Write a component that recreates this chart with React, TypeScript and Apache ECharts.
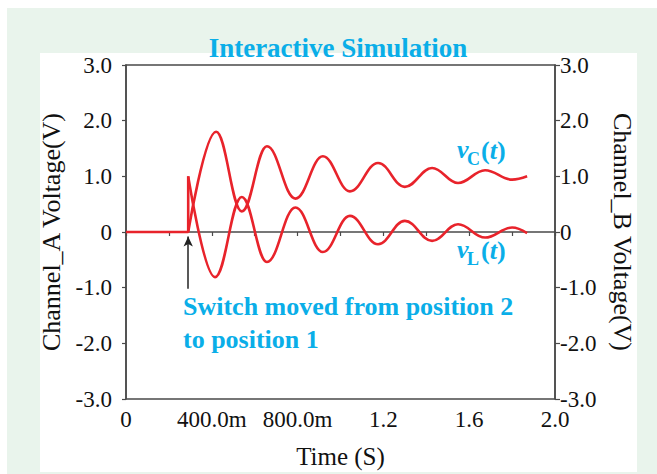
import React, { useEffect, useRef } from 'react';
import * as echarts from 'echarts';

const xTickLabels = ['0', '400.0m', '800.0m', '1.2', '1.6', '2.0'];
const yTickLabels = ['-3.0', '-2.0', '-1.0', '0', '1.0', '2.0', '3.0'];

const switchTime = 0.29;
const preTimes = [0, 0.29, 0.29];
const preValues = [0, 0, 1.0];
const vcTimes = [0.29, 0.42, 0.54, 0.657, 0.79, 0.918, 1.044, 1.175, 1.3, 1.427, 1.548, 1.674, 1.8, 1.87];
const vcValues = [0, 1.8, 0.37, 1.54, 0.6, 1.36, 0.73, 1.24, 0.81, 1.15, 0.88, 1.11, 0.94, 1.0];
const vlTimes = [0.29, 0.415, 0.54, 0.657, 0.79, 0.918, 1.044, 1.175, 1.3, 1.427, 1.548, 1.674, 1.8, 1.87];
const vlValues = [1.0, -0.81, 0.63, -0.54, 0.44, -0.36, 0.29, -0.22, 0.2, -0.16, 0.14, -0.1, 0.08, -0.02];
const arrowFrom = -1.02;
const arrowTo = -0.08;

const SERIF = '"Liberation Serif", "Times New Roman", serif';
const CYAN = '#0aaee8';
const RED = '#e8232b';
const AXIS = '#4a4a4a';

const pairs = (xs: number[], ys: number[]) => xs.map((x, i) => [x, ys[i]]);

export default function App() {
  const ref = useRef<HTMLDivElement>(null);
  useEffect(() => {
    if (!ref.current) return;
    const chart = echarts.init(ref.current, null, { renderer: 'svg' });
    const mid = (baseline: number, fs: number) => baseline - 0.34 * fs;
    const labelGroup = (x: number, base: number, sub: string) => [
      { type: 'text', x, y: mid(base, 26), z: 10, style: { text: 'v', font: `italic bold 26px ${SERIF}`, fill: CYAN, verticalAlign: 'middle' } },
      { type: 'text', x: x + 10, y: mid(base + 7, 18), z: 10, style: { text: sub, font: `bold 18px ${SERIF}`, fill: CYAN, verticalAlign: 'middle' } },
      {
        type: 'text', x: x + 24, y: mid(base + 1, 26), z: 10,
        style: {
          text: '{n|(}{i|t}{n|)}', verticalAlign: 'middle', fill: CYAN,
          rich: {
            n: { font: `bold 26px ${SERIF}`, fill: CYAN },
            i: { font: `italic bold 26px ${SERIF}`, fill: CYAN },
          },
        },
      },
    ];
    chart.setOption({
      animation: false,
      grid: { left: 126, right: 102, top: 65, bottom: 73, show: true, borderColor: AXIS, borderWidth: 1.5 },
      xAxis: {
        type: 'value', min: 0, max: 2, interval: 0.4,
        name: 'Time (S)', nameLocation: 'middle', nameGap: 45,
        nameTextStyle: { fontFamily: SERIF, fontSize: 25, color: '#111' },
        axisLine: { lineStyle: { color: AXIS, width: 1.5 } },
        axisTick: { length: 4, lineStyle: { color: AXIS, width: 1.2 } },
        minorTick: { show: true, splitNumber: 2, length: 4, lineStyle: { color: AXIS, width: 1.2 } },
        splitLine: { show: false },
        axisLabel: {
          margin: 11, fontFamily: SERIF, fontSize: 23, lineHeight: 18, color: '#111',
          formatter: (v: number) => xTickLabels[Math.round(v / 0.4)] ?? '',
        },
      },
      yAxis: [0, 1].map((i) => ({
        type: 'value', min: -3, max: 3, interval: 1, position: i === 0 ? 'left' : 'right',
        name: i === 0 ? 'Channel_A Voltage(V)' : 'Channel_B Voltage(V)',
        nameLocation: 'middle', nameGap: i === 0 ? 58 : 54, nameRotate: i === 0 ? 90 : -90,
        nameTextStyle: { fontFamily: SERIF, fontSize: 26, color: '#111' },
        axisLine: { show: true, lineStyle: { color: AXIS, width: 1.5 } },
        axisTick: { show: true, length: i === 0 ? 4 : 5, lineStyle: { color: AXIS, width: 1.2 } },
        splitLine: { show: false },
        axisLabel: {
          margin: i === 0 ? 14 : 5, fontFamily: SERIF, fontSize: 23, lineHeight: 18, color: '#111',
          formatter: (v: number) => yTickLabels[Math.round(v + 3)] ?? '',
        },
      })),
      series: [
        {
          type: 'line', name: 'pre', data: pairs(preTimes, preValues), showSymbol: false,
          lineStyle: { color: RED, width: 2.6 }, z: 3,
          markLine: {
            silent: true, symbol: ['none', 'arrow'], symbolSize: [7, 10],
            label: { show: false },
            lineStyle: { color: '#222', width: 1.5, type: 'solid' },
            data: [[{ coord: [switchTime, arrowFrom] }, { coord: [switchTime, arrowTo] }]],
          },
        },
        {
          type: 'line', name: 'vC', data: pairs(vcTimes, vcValues), showSymbol: false,
          smooth: 0.4, smoothMonotone: 'x',
          lineStyle: { color: RED, width: 2.6 }, z: 3,
        },
        {
          type: 'line', name: 'vL', data: pairs(vlTimes, vlValues), showSymbol: false,
          smooth: 0.4, smoothMonotone: 'x',
          lineStyle: { color: RED, width: 2.6 }, z: 3,
        },
      ],
      graphic: [
        { type: 'text', x: 338, y: mid(56.7, 27), z: 10, style: { text: 'Interactive Simulation', font: `bold 27px ${SERIF}`, fill: CYAN, align: 'center', verticalAlign: 'middle' } },
        { type: 'text', x: 183, y: mid(315.5, 26), z: 10, style: { text: 'Switch moved from position 2', font: `bold 26px ${SERIF}`, fill: CYAN, verticalAlign: 'middle' } },
        { type: 'text', x: 183, y: mid(348.3, 26), z: 10, style: { text: 'to position 1', font: `bold 26px ${SERIF}`, fill: CYAN, verticalAlign: 'middle' } },
        ...labelGroup(457, 158, 'C'),
        ...labelGroup(457, 258, 'L'),
      ],
    });
    return () => chart.dispose();
  }, []);
  return (
    <div style={{ position: 'fixed', left: 0, top: 0, width: 657, height: 474, background: '#fff' }}>
      <div style={{ position: 'absolute', left: 7, top: 8, width: 650, height: 466, background: '#e9f4ec' }} />
      <div style={{ position: 'absolute', left: 40, top: 53, width: 597, height: 419, background: '#fff' }} />
      <div ref={ref} style={{ position: 'absolute', left: 0, top: 0, width: 657, height: 474 }} />
    </div>
  );
}
